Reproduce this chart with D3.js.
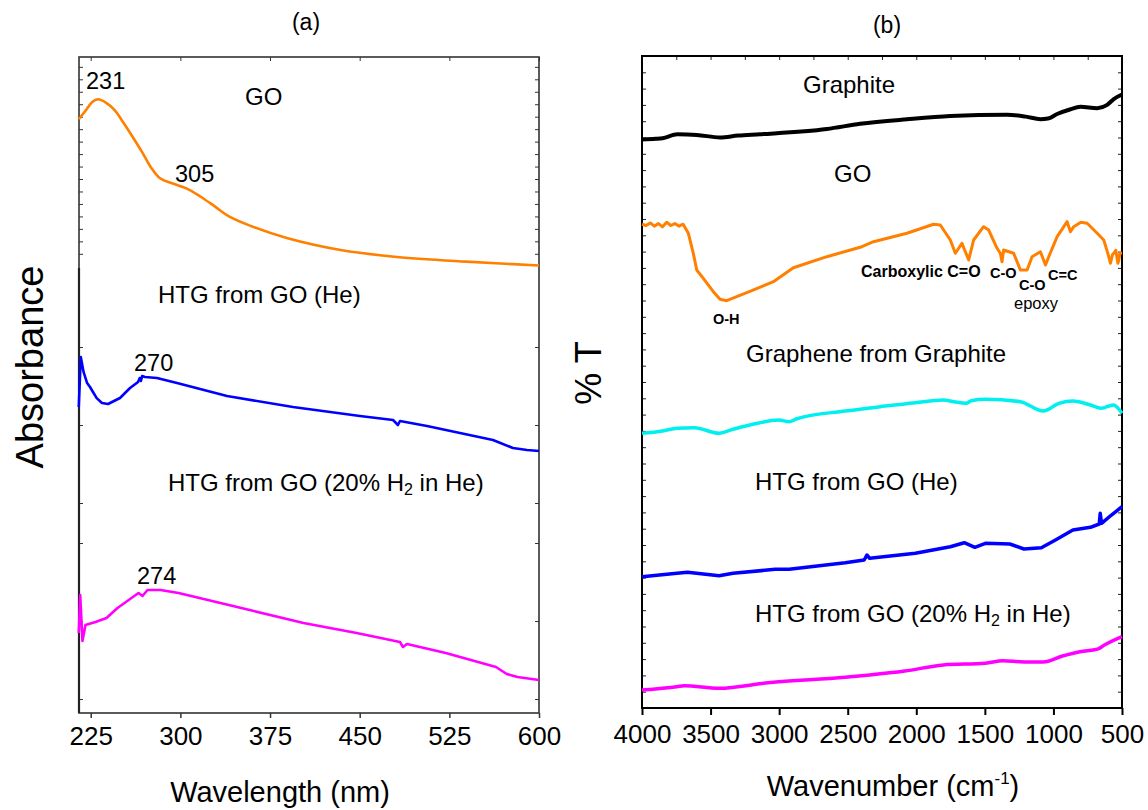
<!DOCTYPE html>
<html>
<head>
<meta charset="utf-8">
<script src="https://cdn.jsdelivr.net/npm/d3@7"></script>
<style>
  html, body { margin: 0; padding: 0; background: #fff; }
  svg { display: block; font-family: "Liberation Sans", Arial, sans-serif; }
</style>
</head>
<body>
<svg id="chart" width="1148" height="810"></svg>
<script>
// ---------------- DATA ----------------
// (a) UV-vis: [wavelength nm, absorbance (a.u., offset)]
const uvTicks = [225, 300, 375, 450, 525, 600];
const uvGO = [[215,9.05],[221,9.19],[226,9.31],[231,9.355],[238,9.30],[245,9.19],[252,9.01],[260,8.785],
  [268,8.55],[275,8.328],[283,8.151],[293,8.075],[305,7.998],[317,7.870],[329,7.72],[341,7.566],[359,7.424],
  [389,7.241],[434,7.058],[479,6.956],[539,6.880],[600,6.822]];
const uvHTGHe = [[215,4.665],[216.7,5.427],[219,5.20],[222,5.03],[224.4,4.970],[226.9,4.893],[230,4.80],[234.4,4.726],
  [239.5,4.710],[249.5,4.802],[257.9,4.954],[264.6,5.046],[266,5.107],[267,5.061],[268,5.137],[270.4,5.122],
  [280.4,5.107],[297.2,5.030],[339,4.832],[394.2,4.665],[450.2,4.527],[477.9,4.466],[482,4.390],[483.7,4.451],
  [506.3,4.375],[561.5,4.162],[578.2,4.040],[590,4.01],[600,3.994]];
const uvHTGH2 = [[215,1.220],[216.2,1.799],[218.1,1.098],[220.6,1.341],[229,1.387],[238.2,1.448],[247.4,1.601],
  [259.1,1.753],[265,1.829],[268.3,1.784],[272.5,1.875],[283.4,1.875],[298.5,1.829],[316,1.753],[358,1.570],
  [403,1.372],[447.4,1.220],[483.7,1.082],[486.2,1.006],[489.6,1.052],[522,0.915],[564,0.701],[573,0.595],
  [582,0.549],[600,0.503]];
const uvMinorTicksTop = d3.range(7.0, 10.0, 0.19);
const uvMinorTicksLow = [5.579, 4.390, 3.201, 2.591, 1.402, 0.213];

// (b) FTIR: [wavenumber cm-1, %T (a.u., offset)]
const irTicks = [4000, 3500, 3000, 2500, 2000, 1500, 1000, 500];
const irGraphite = [[4000,8.72],[3900,8.73],[3850,8.74],[3742,8.80],[3600,8.79],[3431,8.75],[3300,8.78],[3139,8.80],
  [2652,8.88],[2409,8.96],[2068,9.03],[1752,9.08],[1338,9.10],[1200,9.07],[1095,9.03],[1040,9.04],[973,9.11],
  [880,9.18],[803,9.22],[681,9.20],[608,9.25],[560,9.34],[500,9.41]];
const irGO = [[4000,7.419],[3970,7.40],[3940,7.44],[3910,7.39],[3880,7.43],[3850,7.38],[3820,7.45],[3790,7.40],
  [3760,7.43],[3730,7.39],[3700,7.42],[3662,7.281],[3626,6.974],[3601,6.718],[3553,6.590],[3480,6.385],
  [3431,6.268],[3382,6.247],[3236,6.370],[3042,6.538],[2896,6.753],[2652,6.922],[2409,7.066],[2312,7.152],
  [2068,7.281],[1874,7.419],[1825,7.408],[1752,7.178],[1715,6.974],[1691,7.051],[1667,7.127],[1618,6.871],
  [1582,7.178],[1509,7.382],[1472,7.331],[1411,7.051],[1387,6.974],[1375,6.845],[1363,7.025],[1290,6.974],
  [1241,6.718],[1192,6.718],[1156,6.922],[1095,6.998],[1058,6.794],[1034,6.922],[973,7.229],[900,7.459],
  [876,7.305],[852,7.382],[800,7.45],[754,7.434],[681,7.281],[633,7.178],[600,6.95],[584,6.821],[570,6.95],
  [560,6.974],[545,7.02],[530,6.82],[523,6.871],[515,6.98],[500,6.974]];
const irGraphene = [[4000,4.213],[3850,4.25],[3745,4.290],[3617,4.299],[3438,4.213],[3336,4.275],[3157,4.367],
  [3004,4.417],[2927,4.391],[2876,4.433],[2518,4.555],[2263,4.621],[2007,4.683],[1803,4.724],[1726,4.698],
  [1637,4.673],[1599,4.713],[1496,4.735],[1241,4.698],[1075,4.555],[960,4.673],[858,4.709],[730,4.647],
  [653,4.597],[563,4.647],[500,4.520]];
const irHTGHe = [[4000,2.014],[3745,2.066],[3668,2.081],[3438,2.029],[3336,2.066],[3029,2.127],[2927,2.127],
  [2518,2.229],[2380,2.270],[2360,2.347],[2340,2.296],[2007,2.373],[1752,2.474],[1650,2.535],[1573,2.465],
  [1496,2.526],[1318,2.515],[1215,2.439],[1088,2.459],[985,2.577],[858,2.730],[730,2.771],[666,2.822],
  [659,2.986],[649,2.833],[577,2.960],[500,3.087]];
const irHTGH2 = [[4000,0.276],[3745,0.327],[3693,0.342],[3438,0.302],[3080,0.388],[2518,0.471],[2340,0.506],
  [2084,0.567],[1803,0.660],[1496,0.686],[1369,0.725],[1215,0.706],[1075,0.706],[934,0.798],[807,0.864],
  [679,0.902],[628,0.966],[500,1.094]];
const irMinorTicksY = d3.range(0.25, 10, 0.25);
const irMinorTicksTop = d3.range(3750, 500, -250);

// ---------------- DRAW ----------------
const svg = d3.select("#chart");
const FONT = '"Liberation Sans", Arial, sans-serif';

// ---- Panel (a)
const xL = d3.scaleLinear().domain([215.2, 600]).range([79, 539]);
const yL = d3.scaleLinear().domain([0, 10]).range([713, 57]);

const gA = svg.append("g");
gA.append("g").attr("transform", `translate(${xL.range()[0]},0)`)
  .call(d3.axisRight(yL).tickValues(uvMinorTicksTop).tickSize(4).tickFormat(""))
  .call(g => g.select(".domain").remove());
gA.append("g").attr("transform", `translate(${xL.range()[1]},0)`)
  .call(d3.axisLeft(yL).tickValues(uvMinorTicksTop).tickSize(4).tickFormat(""))
  .call(g => g.select(".domain").remove());
gA.append("g").attr("transform", `translate(${xL.range()[0]},0)`)
  .call(d3.axisRight(yL).tickValues(uvMinorTicksLow).tickSize(4).tickFormat(""))
  .call(g => g.select(".domain").remove());
gA.append("g").attr("transform", `translate(${xL.range()[1]},0)`)
  .call(d3.axisLeft(yL).tickValues(uvMinorTicksLow).tickSize(4).tickFormat(""))
  .call(g => g.select(".domain").remove());
gA.append("g").attr("transform", `translate(0,${yL.range()[1]})`)
  .call(d3.axisBottom(xL).tickValues(uvTicks).tickSize(4).tickFormat(""))
  .call(g => g.select(".domain").remove());
gA.selectAll(".tick line").attr("stroke", "#333");

const axL = gA.append("g").attr("transform", `translate(0,${yL.range()[0]})`)
  .call(d3.axisBottom(xL).tickValues(uvTicks).tickSize(5).tickPadding(8.5).tickFormat(d3.format("d")));
axL.select(".domain").remove();
axL.selectAll(".tick line").attr("stroke", "#333").attr("stroke-width", 1.5);
axL.selectAll(".tick text").attr("font-size", 26).attr("font-family", FONT).attr("fill", "#000");

gA.append("rect").attr("x", 79).attr("y", 57).attr("width", 460).attr("height", 656)
  .attr("fill", "none").attr("stroke", "#333").attr("stroke-width", 1.6);
gA.append("line").attr("x1", 79).attr("x2", 79).attr("y1", 268).attr("y2", 713)
  .attr("stroke", "#222").attr("stroke-width", 2.2);

const lineLs = d3.line().x(d => xL(d[0])).y(d => yL(d[1])).curve(d3.curveCatmullRom);
const lineL2 = d3.line().x(d => xL(d[0])).y(d => yL(d[1]));
gA.append("path").datum(uvGO).attr("d", lineLs).attr("fill", "none")
  .attr("stroke", "#FF8000").attr("stroke-width", 2.6);
gA.append("path").datum(uvHTGHe).attr("d", lineL2).attr("fill", "none")
  .attr("stroke", "#0000FF").attr("stroke-width", 2.6).attr("stroke-linejoin", "round");
gA.append("path").datum(uvHTGH2).attr("d", lineL2).attr("fill", "none")
  .attr("stroke", "#FF00FF").attr("stroke-width", 2.6).attr("stroke-linejoin", "round");

function txt(g, x, y, s, size, opts = {}) {
  return g.append("text").attr("x", x).attr("y", y).attr("font-size", size)
    .attr("font-family", FONT).attr("font-weight", opts.bold ? "bold" : "normal")
    .attr("text-anchor", opts.anchor || "start").attr("fill", "#000").text(s);
}
function htgH2(g, x, y) {
  const t = g.append("text").attr("x", x).attr("y", y).attr("font-size", 24).attr("font-family", FONT).attr("fill", "#000");
  t.append("tspan").text("HTG from GO (20% H");
  t.append("tspan").attr("font-size", 16).attr("dy", 4).text("2");
  t.append("tspan").attr("dy", -4).text(" in He)");
}

txt(gA, 306, 30, "(a)", 23, { anchor: "middle" });
txt(gA, 86, 89, "231", 23.5);
txt(gA, 245, 105, "GO", 24);
txt(gA, 175, 182, "305", 23.5);
txt(gA, 158, 303, "HTG from GO (He)", 24);
txt(gA, 134, 371, "270", 23.5);
htgH2(gA, 168, 491);
txt(gA, 137, 584, "274", 23.5);
gA.append("text").attr("transform", "translate(43,367) rotate(-90)").attr("text-anchor", "middle")
  .attr("font-size", 38).attr("font-family", FONT).text("Absorbance");
txt(gA, 280, 802, "Wavelength (nm)", 29, { anchor: "middle" });

// ---- Panel (b)
const xR = d3.scaleLinear().domain([4000, 500]).range([642, 1122]);
const yR = d3.scaleLinear().domain([0, 10]).range([708, 56]);
const gB = svg.append("g");

gB.append("g").attr("transform", `translate(${xR.range()[0]},0)`)
  .call(d3.axisRight(yR).tickValues(irMinorTicksY).tickSize(4).tickFormat(""))
  .call(g => g.select(".domain").remove());
gB.append("g").attr("transform", `translate(${xR.range()[1]},0)`)
  .call(d3.axisLeft(yR).tickValues(irMinorTicksY).tickSize(4).tickFormat(""))
  .call(g => g.select(".domain").remove());
gB.append("g").attr("transform", `translate(0,${yR.range()[1]})`)
  .call(d3.axisBottom(xR).tickValues(irMinorTicksTop).tickSize(4).tickFormat(""))
  .call(g => g.select(".domain").remove());
gB.selectAll(".tick line").attr("stroke", "#222");

const axR = gB.append("g").attr("transform", `translate(0,${yR.range()[0]})`)
  .call(d3.axisBottom(xR).tickValues(irTicks).tickSize(7).tickPadding(9.5).tickFormat(d3.format("d")));
axR.select(".domain").remove();
axR.selectAll(".tick line").attr("stroke", "#000").attr("stroke-width", 2);
axR.selectAll(".tick text").attr("font-size", 26).attr("font-family", FONT).attr("fill", "#000");

gB.append("rect").attr("x", 642).attr("y", 56).attr("width", 480).attr("height", 652)
  .attr("fill", "none").attr("stroke", "#000").attr("stroke-width", 2);

const lineR = d3.line().x(d => xR(d[0])).y(d => yR(d[1])).curve(d3.curveMonotoneX);
const lineRlin = d3.line().x(d => xR(d[0])).y(d => yR(d[1]));
gB.append("path").datum(irGraphite).attr("d", lineR).attr("fill", "none")
  .attr("stroke", "#000").attr("stroke-width", 4);
gB.append("path").datum(irGO).attr("d", lineRlin).attr("fill", "none")
  .attr("stroke", "#FF8000").attr("stroke-width", 3).attr("stroke-linejoin", "round");
gB.append("path").datum(irGraphene).attr("d", lineR).attr("fill", "none")
  .attr("stroke", "#00F0F0").attr("stroke-width", 3.5);
gB.append("path").datum(irHTGHe).attr("d", lineRlin).attr("fill", "none")
  .attr("stroke", "#0000FF").attr("stroke-width", 3.5).attr("stroke-linejoin", "round");
gB.append("path").datum(irHTGH2).attr("d", lineR).attr("fill", "none")
  .attr("stroke", "#FF00FF").attr("stroke-width", 3.5);

txt(gB, 887, 33, "(b)", 23, { anchor: "middle" });
txt(gB, 803, 93, "Graphite", 24);
txt(gB, 834, 182, "GO", 24);
txt(gB, 713, 324, "O-H", 14.5, { bold: true });
txt(gB, 861, 277, "Carboxylic C=O", 16, { bold: true });
txt(gB, 990, 278, "C-O", 14.5, { bold: true });
txt(gB, 1019, 290, "C-O", 14.5, { bold: true });
txt(gB, 1048, 280, "C=C", 14.5, { bold: true });
txt(gB, 1014, 309, "epoxy", 16.5);
txt(gB, 746, 362, "Graphene from Graphite", 24);
txt(gB, 755, 490, "HTG from GO (He)", 24);
htgH2(gB, 755, 622);
gB.append("text").attr("transform", "translate(601,373) rotate(-90)").attr("text-anchor", "middle")
  .attr("font-size", 36).attr("font-family", FONT).text("% T");
const wl = gB.append("text").attr("x", 893).attr("y", 796).attr("text-anchor", "middle")
  .attr("font-size", 29).attr("font-family", FONT);
wl.append("tspan").text("Wavenumber (cm");
wl.append("tspan").attr("font-size", 17).attr("dy", -12).text("-1");
wl.append("tspan").attr("dy", 12).text(")");
</script>
</body>
</html>
